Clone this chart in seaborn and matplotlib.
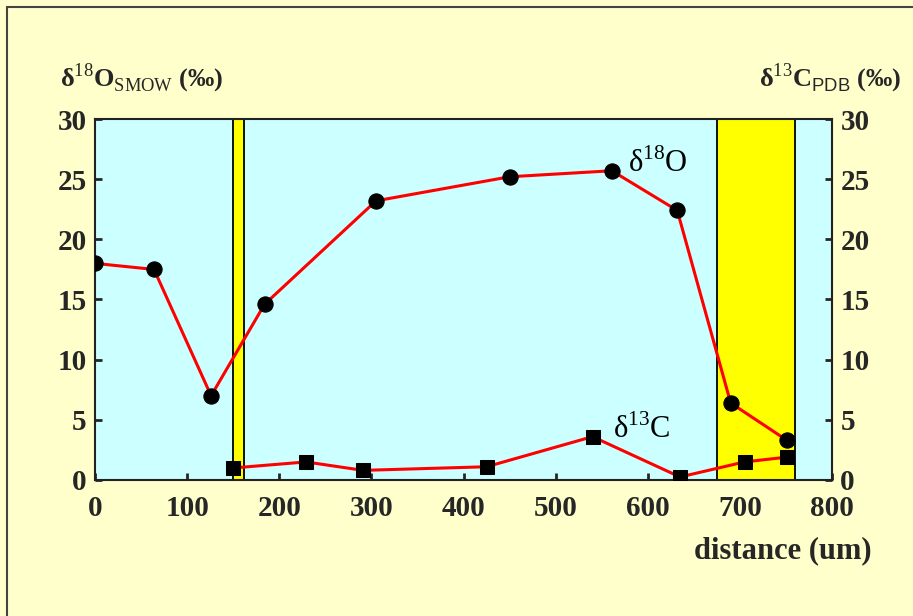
import matplotlib
matplotlib.use("Agg")
import matplotlib.pyplot as plt
from matplotlib.lines import Line2D
import seaborn as sns
import pandas as pd

sns.set_style("ticks")
plt.rcParams['font.family'] = ['Liberation Serif', 'DejaVu Serif']
plt.rcParams['mathtext.fontset'] = 'custom'
plt.rcParams['mathtext.rm'] = 'Liberation Serif'
plt.rcParams['mathtext.sf'] = 'Liberation Sans'

# oxygen isotope profile
dist_O = [0, 64, 126, 184, 305, 450, 561, 632, 690, 751]
d18O = [18.0, 17.5, 7.0, 14.6, 23.2, 25.2, 25.7, 22.4, 6.4, 3.3]

# carbon isotope profile
dist_C = [150, 229, 291, 425, 540, 635, 705, 751]
d13C = [1.0, 1.5, 0.8, 1.1, 3.6, 0.25, 1.5, 1.9]

# yellow zones (distance, um)
zones = [(150, 162), (675, 760)]

df_O = pd.DataFrame({'distance': dist_O, 'value': d18O})
df_C = pd.DataFrame({'distance': dist_C, 'value': d13C})

fig = plt.figure(figsize=(9.13, 6.16), dpi=100, facecolor='#FFFFCC')
ax = fig.add_axes([0.1041, 0.2208, 0.8072, 0.586])
ax.set_facecolor('#CCFFFF')

for a, b in zones:
    ax.axvspan(a, b, facecolor='#FFFF00', edgecolor='black', linewidth=1.3, zorder=1)

sns.lineplot(data=df_O, x='distance', y='value', ax=ax, sort=False,
             color='red', linewidth=2.2, marker='o', markersize=11,
             markerfacecolor='black', markeredgecolor='black', zorder=3)
sns.lineplot(data=df_C, x='distance', y='value', ax=ax, sort=False,
             color='red', linewidth=2.2, marker='s', markersize=10.5,
             markerfacecolor='black', markeredgecolor='black', zorder=3)

ax.set_xlim(0, 800)
ax.set_ylim(0, 30)
ax.set_xticks(range(0, 801, 100))
ax.set_yticks(range(0, 31, 5))
ax.set_xlabel('')
ax.set_ylabel('')
ax.tick_params(axis='x', direction='in', length=5, width=2, pad=11, labelsize=21)
ax.tick_params(axis='y', direction='in', length=5, width=2, pad=6, labelsize=21,
               right=True, labelright=True)
for lab in ax.get_xticklabels() + ax.get_yticklabels():
    lab.set_fontweight('bold')
for s in ax.spines.values():
    s.set_visible(True)
    s.set_color('#222222')
    s.set_linewidth(1.5)

ax.text(579, 25.6, 'δ$^{18}$O', fontsize=22, color='black', va='baseline', zorder=4)
ax.text(562, 3.5, 'δ$^{13}$C', fontsize=22, color='black', va='baseline', zorder=4)

fig.text(0.066, 0.873, 'δ$^{18}$O$_{\\mathrm{SMOW}}$ (‰)', fontsize=19,
         fontweight='bold', ha='left', va='center')
fig.text(0.988, 0.873, 'δ$^{13}$C$_{\\mathsf{PDB}}$ (‰)', fontsize=19,
         fontweight='bold', ha='right', va='center')
fig.text(0.955, 0.094, 'distance (um)', fontsize=22, fontweight='bold',
         ha='right', va='baseline')

# frame of the slide
fig.add_artist(Line2D([0.0077, 0.0077], [0, 0.9886], color='#444444', linewidth=1.5))
fig.add_artist(Line2D([0.0077, 1.0], [0.9886, 0.9886], color='#444444', linewidth=1.5))

fig.savefig('out.png', dpi=100, facecolor=fig.get_facecolor())
